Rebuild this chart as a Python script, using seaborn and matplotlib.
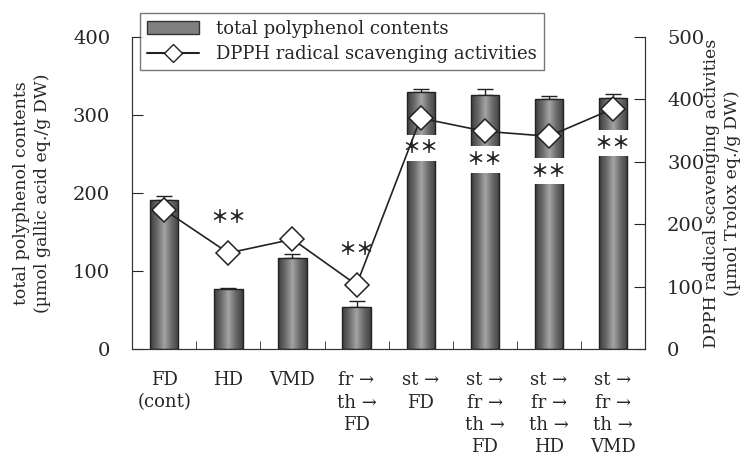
import numpy as np
import matplotlib
matplotlib.use('Agg')
import matplotlib.pyplot as plt
from matplotlib.colors import LinearSegmentedColormap
from matplotlib.patches import Patch
from matplotlib.lines import Line2D
import seaborn as sns

# data
labels = ['FD\n(cont)', 'HD', 'VMD', 'fr →\nth →\nFD', 'st →\nFD',
          'st →\nfr →\nth →\nFD', 'st →\nfr →\nth →\nHD', 'st →\nfr →\nth →\nVMD']
polyphenol = [191, 77, 117, 54, 329, 326, 321, 322]
polyphenol_err = [5, 1, 5, 8, 4, 7, 3, 5]
dpph = [223, 154, 176, 103, 370, 349, 341, 385]
star_pos = [None, 169, None, 128, 258, 243, 228, 264]  # left-axis units
star_boxed = [False, False, False, False, True, True, True, True]

sns.set_style('ticks')
plt.rcParams['font.family'] = ['DejaVu Serif']
plt.rcParams['font.size'] = 12.5

fig = plt.figure(figsize=(7.56, 4.57), dpi=100)
ax = fig.add_axes([0.175, 0.236, 0.678, 0.683])
ax2 = ax.twinx()

x = np.arange(len(labels))
sns.barplot(x=x, y=polyphenol, ax=ax, color='#888888', width=0.44,
            edgecolor='#222222', linewidth=1.0, errorbar=None, native_scale=True)
ax.errorbar(x, polyphenol, yerr=[[0] * len(x), polyphenol_err], fmt='none',
            ecolor='#222222', elinewidth=1.0, capsize=6, capthick=1.0, zorder=1)

# cylinder-like shading on the bars
cmap = LinearSegmentedColormap.from_list('bar', ['#3c3c3c', '#6a6a6a', '#a4a4a6', '#6a6a6a', '#404040'])
grad = np.linspace(0, 1, 256).reshape(1, -1)
for p in ax.patches:
    x0, y0 = p.get_x(), p.get_y()
    im = ax.imshow(grad, cmap=cmap, aspect='auto',
                   extent=[x0, x0 + p.get_width(), y0, y0 + p.get_height()], zorder=2)
    im.set_clip_path(p)
    p.set_zorder(3)
    p.set_facecolor('none')

for i, (s, boxed) in enumerate(zip(star_pos, star_boxed)):
    if s is None:
        continue
    box = dict(boxstyle='square,pad=0.2', fc='white', ec='none') if boxed else None
    ax.text(i, s, '＊＊', ha='center', va='center', fontsize=13, fontweight='bold',
            zorder=4, family=['Noto Sans CJK JP'], bbox=box, color='#222222')

sns.lineplot(x=x, y=dpph, ax=ax2, color='#222222', linewidth=1.2, marker='D',
             markersize=12, markerfacecolor='white', markeredgecolor='#222222',
             markeredgewidth=1.1)

ax.set_xlim(-0.5, 7.5)
ax.set_ylim(0, 400)
ax2.set_ylim(0, 500)
ax.set_yticks([0, 100, 200, 300, 400])
ax2.set_yticks([0, 100, 200, 300, 400, 500])
ax.set_xticks(x)
ax.set_xticklabels(labels, linespacing=1.3, fontsize=13)
ax.set_xticks(np.arange(0.5, 7.5, 1), minor=True)
ax.tick_params(axis='x', which='major', length=0, pad=16)
ax.tick_params(axis='x', which='minor', direction='in', length=6)
ax.tick_params(axis='y', direction='in', length=8, labelsize=14, pad=16)
ax2.tick_params(axis='y', direction='in', length=8, labelsize=14, pad=16)

for a in (ax, ax2):
    a.spines['top'].set_visible(False)
    for sp in a.spines.values():
        sp.set_color('#333333')
ax.set_ylabel('total polyphenol contents\n(µmol gallic acid eq./g DW)', linespacing=1.3, labelpad=16)
ax2.set_ylabel('DPPH radical scavenging activities\n(µmol Trolox eq./g DW)',
               linespacing=1.3, rotation=90, labelpad=-1)

handles = [Patch(facecolor='#808080', edgecolor='#333333', label='total polyphenol contents'),
           Line2D([0], [0], color='#222222', marker='D', markersize=9, markerfacecolor='white',
                  markeredgecolor='#222222', label='DPPH radical scavenging activities')]
leg = fig.legend(handles=handles, loc='upper left', bbox_to_anchor=(0.185, 0.972),
                 frameon=True, fancybox=False, fontsize=13, borderaxespad=0,
                 handlelength=2.9, handletextpad=0.9, borderpad=0.4, labelspacing=0.4)
leg.get_frame().set_edgecolor('#555555')
leg.get_frame().set_linewidth(1.0)

fig.savefig('out.png', dpi=100)
